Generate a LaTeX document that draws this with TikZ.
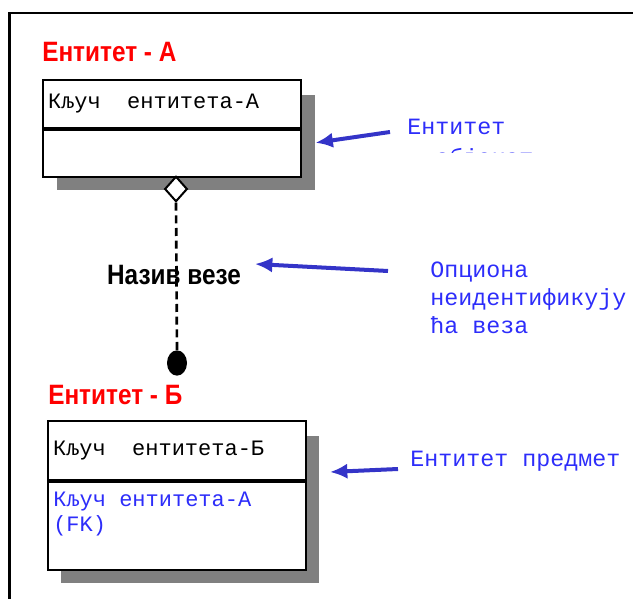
\documentclass[tikz,border=0pt]{standalone}
\usepackage{fontspec}
\setmainfont{Liberation Sans}
\setmonofont{Liberation Mono}
\newfontfamily\narrowsans[FakeStretch=0.87]{Liberation Sans}
\usetikzlibrary{positioning, shapes.geometric, arrows.meta, calc, backgrounds}
\definecolor{titred}{RGB}{255,0,0}
\definecolor{notebl}{RGB}{45,45,250}
\definecolor{arrbl}{RGB}{52,52,200}
\definecolor{shgray}{RGB}{128,128,128}

\begin{document}
\begin{tikzpicture}[
  x=0.75pt, y=-0.75pt, font=\small,
  Title/.style={anchor=base west, inner sep=0pt, text=titred,
                font=\fontsize{21}{24}\selectfont\narrowsans\bfseries},
  Key/.style={draw, line width=1.5pt, fill=white, anchor=north west,
              minimum width=193.5pt, text width=186pt, align=left,
              inner xsep=3.75pt, inner ysep=0pt,
              font=\fontsize{16.5}{19}\selectfont\ttfamily},
  Shd/.style={fill=shgray, inner sep=0pt, anchor=north west,
              minimum width=193.5pt},
  Note/.style={inner sep=0pt, text=notebl, align=left,
               font=\fontsize{17.5}{21}\selectfont\ttfamily},
  arr/.style={-{Latex[length=13pt, width=11.5pt]}, line width=3pt, arrbl},
  dashln/.style={line width=2pt, dash pattern=on 6pt off 3.5pt},
]
\useasboundingbox (0,0) rectangle (633,599);

%% ---- frame (cut at the right and bottom) ----
\draw[line width=2pt] (9.5,599) -- (9.5,13) -- (633,13);

%% ---- Entity A ----
\node[Title] (titA) at (42,62) {Ентитет - А};
\node[Key, minimum height=36pt] (keyA) at (42,79) {Кључ\hspace{1.2em}ентитета-А};
\node[Key, minimum height=35.25pt] (bodyA) at (keyA.south west) {};

%% ---- relationship ----
\node[diamond, draw, fill=white, line width=1.5pt, inner sep=0pt,
      minimum width=17pt, minimum height=19pt] (dia) at (176,189) {};
\node[ellipse, fill=black, inner sep=0pt,
      minimum width=15pt, minimum height=19pt] (dot) at (177,363) {};
\draw[dashln] (dia.south) -- (dot.north);
\node[anchor=base, inner sep=0pt,
      font=\fontsize{21}{24}\selectfont\narrowsans\bfseries] (rel) at (174,285) {Назив везе};

%% ---- Entity B ----
\node[Title] (titB) at (48,405) {Ентитет - Б};
\node[Key, minimum height=44.25pt] (keyB) at (47,420) {Кључ\hspace{1.2em}ентитета-Б};
\node[Key, minimum height=66pt] (bodyB) at (keyB.south west) {};
\node[anchor=north west, inner sep=0pt, text=notebl, align=left,
      font=\fontsize{16.5}{18.75}\selectfont\ttfamily]
  (fkB) at (53,492) {Кључ ентитета-А\\(FK)};

%% ---- shadows ----
\begin{scope}[on background layer]
  \node[Shd, minimum height=71.25pt] (shA) at ($(keyA.north west)+(15,16)$) {};
  \node[Shd, minimum height=110.25pt] (shB) at ($(keyB.north west)+(14,16)$) {};
\end{scope}

%% ---- notes ----
\node[Note, anchor=base west] (noteA) at (407,135) {Ентитет};
\begin{scope}
  \clip (400,141) rectangle (540,153);
  \node[Note, anchor=base west] (noteA2) at (435,166) {објекат};
\end{scope}
\node[Note, anchor=north west] (noteR) at (430,262)
  {Опциона\\неидентификују\\ћа веза};
\node[Note, anchor=base west] (noteB) at (410,467) {Ентитет предмет};

%% ---- arrows ----
\coordinate (tA) at (390,132);
\coordinate (tR) at (388,271);
\coordinate (hR) at (255,264);
\coordinate (tB) at (398,469);
\coordinate (hB) at (330,472);
\draw[arr] (tA) -- (shA.east);
\draw[arr] (tR) -- (hR);
\draw[arr] (tB) -- (hB);

\end{tikzpicture}
\end{document}
